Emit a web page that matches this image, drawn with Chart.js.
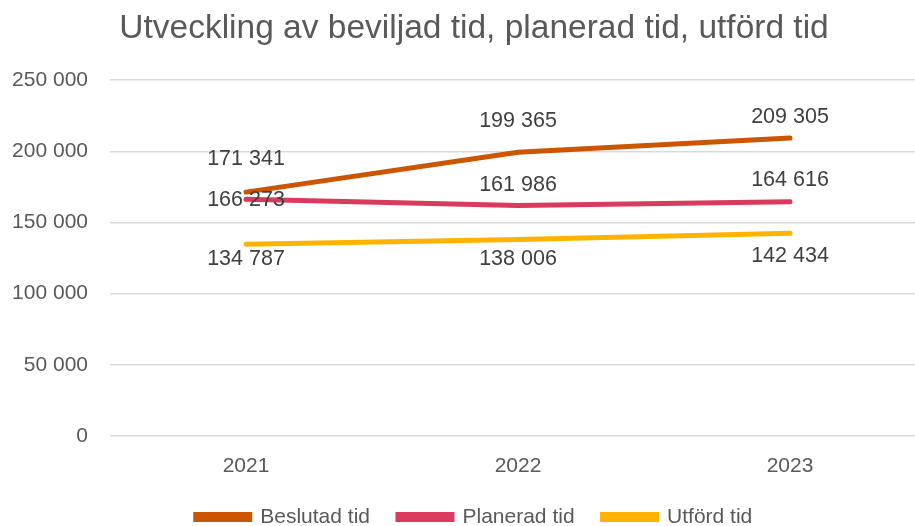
<!DOCTYPE html>
<html><head><meta charset="utf-8">
<script src="https://cdn.jsdelivr.net/npm/chart.js@4"></script>
<style>html,body{margin:0;padding:0;background:#fff;overflow:hidden}#w{width:926px;height:535px}</style>
</head><body><div id="w"><canvas id="c"></canvas></div>
<script>
const categories = ['2021','2022','2023'];
const beslutad = [171341, 199365, 209305];
const planerad = [166273, 161986, 164616];
const utford = [134787, 138006, 142434];
const seriesNames = ['Beslutad tid','Planerad tid','Utförd tid'];
const title = 'Utveckling av beviljad tid, planerad tid, utförd tid';

const fmt = v => String(Math.round(v)).replace(/\B(?=(\d{3})+(?!\d))/g, ' ');

const labelPlugin = {
  id: 'vlabels',
  afterLayout(chart) {
    // let the y-axis labels use the space left of the axis box (avoid clipping)
    chart.scales.y.left = 0;
  },
  afterDatasetsDraw(chart, args, opts) {
    const ctx = chart.ctx;
    ctx.save();
    ctx.font = '21.5px "Liberation Sans", Arial, sans-serif';
    ctx.fillStyle = '#404040';
    ctx.textAlign = 'center';
    ctx.textBaseline = 'middle';
    chart.data.datasets.forEach((ds, di) => {
      const meta = chart.getDatasetMeta(di);
      meta.data.forEach((pt, i) => {
        ctx.fillText(fmt(ds.data[i]), pt.x, pt.y + opts.dy[di][i]);
      });
    });
    ctx.restore();
  }
};

new Chart(document.getElementById('c'), {
  type: 'line',
  data: {
    labels: categories,
    datasets: [
      {label: seriesNames[0], data: beslutad, borderColor: '#CC5500', backgroundColor: '#CC5500', borderWidth: 5, borderCapStyle: 'round', pointRadius: 0, tension: 0},
      {label: seriesNames[1], data: planerad, borderColor: '#D93B5E', backgroundColor: '#D93B5E', borderWidth: 5, borderCapStyle: 'round', pointRadius: 0, tension: 0},
      {label: seriesNames[2], data: utford, borderColor: '#FFB300', backgroundColor: '#FFB300', borderWidth: 5, borderCapStyle: 'round', pointRadius: 0, tension: 0}
    ]
  },
  options: {
    responsive: true, maintainAspectRatio: false, animation: false,
    layout: {padding: {left: 22, right: 0, top: 0, bottom: 0}},
    plugins: {
      vlabels: {dy: [[-33, -31, -21], [1, -20, -21.5], [15, 19, 22.5]]},
      title: {display: true, text: title, color: '#595959',
        font: {family: '"Liberation Sans", Arial, sans-serif', size: 33.5, weight: 'normal'},
        padding: {top: 9, bottom: 31}},
      legend: {position: 'bottom', maxHeight: 56.5,
        labels: {color: '#595959', font: {size: 21, family: '"Liberation Sans", Arial, sans-serif'},
        boxWidth: 54, boxHeight: 5, padding: 28}},
      tooltip: {enabled: false}
    },
    scales: {
      x: {offset: true, grid: {display: false, drawTicks: false}, border: {display: false},
        afterFit: s => { s.height = 42.5; },
        ticks: {color: '#595959', font: {size: 21, family: '"Liberation Sans", Arial, sans-serif'}, padding: 18}},
      y: {min: 0, max: 250000, grid: {color: '#D9D9D9', lineWidth: 1.5, drawTicks: false}, border: {display: false},
        afterFit: s => { s.width = 88; },
        ticks: {stepSize: 50000, color: '#595959', padding: 22, font: {size: 21, family: '"Liberation Sans", Arial, sans-serif'}, callback: v => fmt(v)}}
    }
  },
  plugins: [labelPlugin]
});
</script></body></html>
